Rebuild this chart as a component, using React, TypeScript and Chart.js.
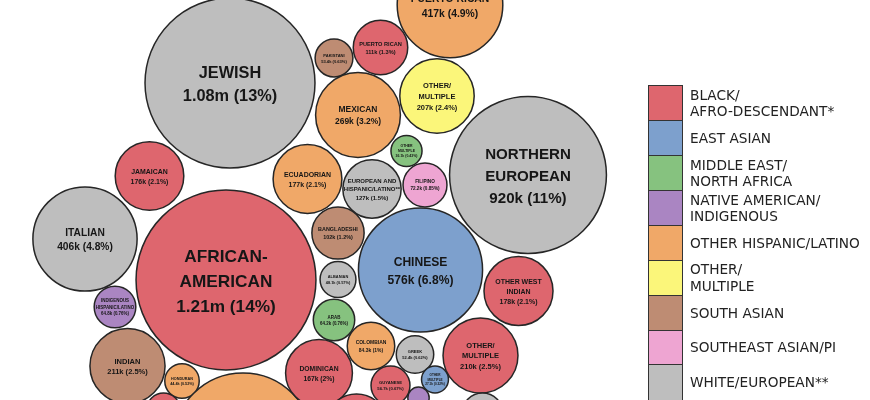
import React, { useEffect, useRef } from "react";
import { Chart, registerables } from "chart.js";

Chart.register(...registerables);

// ---------- Data ----------
const groupNames: string[][] = [
  ["BLACK/", "AFRO-DESCENDANT*"],
  ["EAST ASIAN"],
  ["MIDDLE EAST/", "NORTH AFRICA"],
  ["NATIVE AMERICAN/", "INDIGENOUS"],
  ["OTHER HISPANIC/LATINO"],
  ["OTHER/", "MULTIPLE"],
  ["SOUTH ASIAN"],
  ["SOUTHEAST ASIAN/PI"],
  ["WHITE/EUROPEAN**"],
];

// bubble label lines
const bubbleLabels: string[][] = [
  ["JEWISH", "1.08m (13%)"],
  ["PUERTO RICAN", "417k (4.9%)"],
  ["PAKISTANI", "53.4k (0.63%)"],
  ["PUERTO RICAN", "111k (1.3%)"],
  ["MEXICAN", "269k (3.2%)"],
  ["OTHER/", "MULTIPLE", "207k (2.4%)"],
  ["ECUADORIAN", "177k (2.1%)"],
  ["OTHER", "MULTIPLE", "36.1k (0.43%)"],
  ["EUROPEAN AND", "HISPANIC/LATINO**", "127k (1.5%)"],
  ["FILIPINO", "72.2k (0.85%)"],
  ["BANGLADESHI", "102k (1.2%)"],
  ["JAMAICAN", "176k (2.1%)"],
  ["ITALIAN", "406k (4.8%)"],
  ["AFRICAN-", "AMERICAN", "1.21m (14%)"],
  ["INDIGENOUS", "HISPANIC/LATINO", "64.8k (0.76%)"],
  ["INDIAN", "211k (2.5%)"],
  ["HONDURAN", "44.4k (0.52%)"],
  [],
  [],
  ["DOMINICAN", "167k (2%)"],
  ["COLOMBIAN", "84.3k (1%)"],
  ["ALBANIAN", "48.1k (0.57%)"],
  ["ARAB", "64.2k (0.76%)"],
  ["GREEK", "52.4k (0.62%)"],
  ["GUYANESE", "56.7k (0.67%)"],
  ["OTHER", "MULTIPLE", "27.1k (0.32%)"],
  [],
  [],
  ["CHINESE", "576k (6.8%)"],
  ["NORTHERN", "EUROPEAN", "920k (11%)"],
  ["OTHER WEST", "INDIAN", "178k (2.1%)"],
  ["OTHER/", "MULTIPLE", "210k (2.5%)"],
  [],
];

// population in thousands
const bubbleValues: number[] = [
  1080, 417, 53.4, 111, 269, 207, 177, 36.1, 127, 72.2, 102, 176, 406, 1210,
  64.8, 211, 44.4, 733, 40.7, 167, 84.3, 48.1, 64.2, 52.4, 56.7, 27.1, 148,
  17, 576, 920, 178, 210, 63,
];

// group index (legend category)
const bubbleGroups: number[] = [
  8, 4, 6, 0, 4, 5, 4, 2, 8, 7, 6, 0, 8, 0, 3, 6, 4, 4, 0, 0, 4, 8, 2, 8, 0,
  1, 0, 3, 1, 8, 0, 0, 8,
];

// packed layout positions (chart units)
const packX: number[] = [
  230, 450, 334, 380.5, 358, 437, 307.5, 406.5, 372, 425, 338, 149.5, 85, 226,
  115, 127.5, 182, 243, 163.5, 319, 371, 338, 334, 415, 390.5, 435, 356.5,
  418.5, 420.5, 528, 518.5, 480.5, 482.5,
];
const packY: number[] = [
  83, 5, 58, 47.5, 115, 96, 179, 151, 189, 185, 233, 176, 239, 280, 307, 366,
  381, 443, 409.5, 373, 346, 279.5, 320, 354.5, 385.5, 379.5, 425.5, 397.7,
  270, 175, 291, 355.5, 413.6,
];

// ---------- Styles ----------
const groupColors = [
  "#DE666E",
  "#7DA0CD",
  "#86C27F",
  "#AA85C2",
  "#F0A868",
  "#FBF67A",
  "#BE8C73",
  "#EEA5D2",
  "#BEBEBE",
];
const R_PER_SQRT_K = 2.586;

const labelPlugin = {
  id: "bubbleLabels",
  afterDatasetsDraw(chart: any) {
    const ctx = chart.ctx;
    const meta = chart.getDatasetMeta(0);
    meta.data.forEach((el: any, i: number) => {
      const lines = bubbleLabels[i];
      if (!lines || !lines.length) return;
      const r = R_PER_SQRT_K * Math.sqrt(bubbleValues[i]);
      const fs = 0.185 * r + 0.6;
      const lh = fs * 1.45;
      ctx.save();
      ctx.font = `bold ${fs}px "Liberation Sans", Arial, sans-serif`;
      ctx.fillStyle = "#161616";
      ctx.textAlign = "center";
      ctx.textBaseline = "middle";
      const y0 = el.y + fs * 0.12 - ((lines.length - 1) * lh) / 2;
      lines.forEach((t, j) => ctx.fillText(t, el.x, y0 + j * lh));
      ctx.restore();
    });
  },
};

export default function App() {
  const ref = useRef<HTMLCanvasElement | null>(null);

  useEffect(() => {
    if (!ref.current) return;
    const data = bubbleValues.map((v, i) => ({
      x: packX[i],
      y: packY[i],
      r: R_PER_SQRT_K * Math.sqrt(v),
    }));
    const chart = new Chart(ref.current, {
      type: "bubble",
      data: {
        datasets: [
          {
            data,
            backgroundColor: bubbleGroups.map((g) => groupColors[g]),
            borderColor: "#262626",
            borderWidth: 1.5,
          } as any,
        ],
      },
      options: {
        responsive: false,
        animation: false,
        layout: { padding: 0, autoPadding: false } as any,
        plugins: { legend: { display: false }, tooltip: { enabled: false } },
        scales: {
          x: { type: "linear", min: 0, max: 870, display: false },
          y: { type: "linear", min: 0, max: 400, reverse: true, display: false },
        },
      },
      plugins: [labelPlugin],
    });
    return () => chart.destroy();
  }, []);

  const rowH = 34.9;
  return (
    <div
      style={{
        position: "absolute",
        left: 0,
        top: 0,
        width: 870,
        height: 400,
        background: "#fff",
        overflow: "hidden",
      }}
    >
      <canvas ref={ref} width={870} height={400} style={{ display: "block" }} />
      {groupNames.map((lines, i) => (
        <React.Fragment key={i}>
          <div
            style={{
              position: "absolute",
              left: 648,
              top: 86 + i * rowH - 0.75,
              width: 35,
              height: rowH + 1.5,
              boxSizing: "border-box",
              border: "1.5px solid #333",
              background: groupColors[i],
            }}
          />
          <div
            style={{
              position: "absolute",
              left: 690,
              top: 86 + i * rowH,
              height: rowH,
              display: "flex",
              flexDirection: "column",
              justifyContent: "center",
              fontFamily: '"DejaVu Sans", sans-serif',
              fontSize: 13.7,
              lineHeight: "16.5px",
              color: "#222",
              whiteSpace: "nowrap",
            }}
          >
            {lines.map((t, j) => (
              <div key={j}>{t}</div>
            ))}
          </div>
        </React.Fragment>
      ))}
    </div>
  );
}
